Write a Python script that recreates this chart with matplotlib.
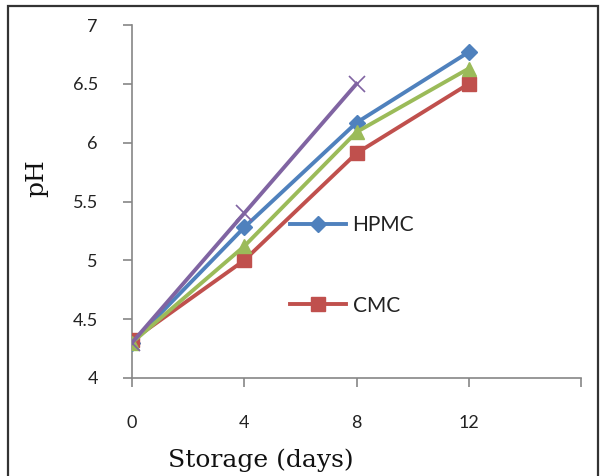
import matplotlib
matplotlib.use("Agg")
import matplotlib.pyplot as plt
from matplotlib.lines import Line2D
from matplotlib.patches import Rectangle

# Storage time (days) and pH readings per coating
days = [0, 4, 8, 12]
hpmc = [4.30, 5.28, 6.17, 6.77]
cmc = [4.32, 5.00, 5.91, 6.50]
green_series = [4.30, 5.12, 6.09, 6.63]
purple_days = [0, 4, 8]
purple_series = [4.30, 5.40, 6.50]

x_ticks = [0, 4, 8, 12, 16]
x_tick_labels = ["0", "4", "8", "12", ""]
y_ticks = [4, 4.5, 5, 5.5, 6, 6.5, 7]
y_tick_labels = ["4", "4.5", "5", "5.5", "6", "6.5", "7"]

BLUE = "#4F81BD"
RED = "#C0504D"
GREEN = "#9BBB59"
PURPLE = "#8064A2"
AXIS = "#868686"

fig = plt.figure(figsize=(6.0, 4.76), dpi=100)
fig.patch.set_facecolor("white")

# outer frame around the chart area
fig.add_artist(Rectangle((8 / 600, -0.02), 590 / 600, (476 - 6) / 476 + 0.02,
                         transform=fig.transFigure, fill=False,
                         edgecolor="#333333", linewidth=1.6))

ax = fig.add_axes([132 / 600, (476 - 378) / 476, 449 / 600, 353 / 476])

lw = 2.8
ax.plot(days, hpmc, color=BLUE, lw=lw, marker="D", ms=8, mec=BLUE, mfc=BLUE, zorder=3)
ax.plot(days, cmc, color=RED, lw=lw, marker="s", ms=10, mec=RED, mfc=RED, zorder=4)
ax.plot(days, green_series, color=GREEN, lw=lw, marker="^", ms=10, mec=GREEN, mfc=GREEN, zorder=5)
ax.plot(purple_days, purple_series, color=PURPLE, lw=lw, marker="x", ms=11, mew=1.2,
        mec=PURPLE, zorder=6)

ax.set_xlim(0, 16)
ax.set_ylim(4, 7)
ax.set_xticks(x_ticks)
ax.set_xticklabels(x_tick_labels)
ax.set_yticks(y_ticks)
ax.set_yticklabels(y_tick_labels)

for side in ("top", "right"):
    ax.spines[side].set_visible(False)
for side in ("left", "bottom"):
    ax.spines[side].set_color(AXIS)
    ax.spines[side].set_linewidth(1.2)

ax.tick_params(axis="both", direction="out", length=6.5, width=1.2, color=AXIS,
               labelsize=13, labelcolor="#222222")
ax.tick_params(axis="y", pad=18)
ax.tick_params(axis="x", pad=20)
for lab in ax.get_xticklabels() + ax.get_yticklabels():
    lab.set_family(["Lato", "DejaVu Sans"])

ax.set_xlabel("Storage (days)", family=["DejaVu Serif"],
              fontsize=18, color="#111111", va="baseline")
ax.xaxis.set_label_coords((261 - 132) / 449, (378 - 467) / 353)
ax.set_ylabel("pH", family=["DejaVu Serif"], fontsize=18,
              color="#111111", va="center")
ax.yaxis.set_label_coords((37 - 132) / 449, (378 - 178) / 353)

handles = [
    Line2D([], [], color=BLUE, lw=lw, marker="D", ms=8, mfc=BLUE, mec=BLUE),
    Line2D([], [], color=RED, lw=lw, marker="s", ms=10, mfc=RED, mec=RED),
]
leg = ax.legend(handles, ["HPMC", "CMC"], loc="center left",
                bbox_to_anchor=((290 - 132) / 449, (378 - 265.5) / 353),
                frameon=False, borderpad=0, borderaxespad=0,
                handlelength=2.7, handletextpad=0.3, labelspacing=2.9,
                prop={"family": ["Lato", "DejaVu Sans"], "size": 15})
for t in leg.get_texts():
    t.set_color("#222222")

fig.savefig("out.png", dpi=100, facecolor="white")
